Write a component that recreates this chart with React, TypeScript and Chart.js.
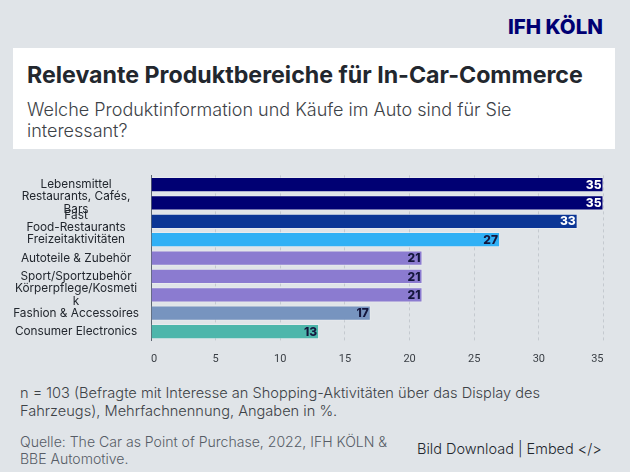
import { useEffect, useRef } from 'react';
import { Chart, registerables } from 'chart.js';

Chart.register(...registerables);

const categories = [
    'Lebensmittel',
    ['Restaurants, Cafés,', 'Bars'],
    ['Fast', 'Food-Restaurants'],
    'Freizeitaktivitäten',
    'Autoteile & Zubehör',
    'Sport/Sportzubehör',
    ['Körperpflege/Kosmeti', 'k'],
    'Fashion & Accessoires',
    'Consumer Electronics',
];
const values = [35, 35, 33, 27, 21, 21, 21, 17, 13];
const barColors = ['#000073', '#000073', '#0b3595', '#30b0f5', '#8b7bd0', '#8b7bd0', '#8b7bd0', '#7794bf', '#4db6ab'];
const labelColors = ['#ffffff', '#ffffff', '#ffffff', '#14163c', '#14163c', '#14163c', '#14163c', '#14163c', '#14163c'];
const xTicks = [0, 5, 10, 15, 20, 25, 30, 35];

const FONT = 'Inter, sans-serif';

const valueLabels = {
    id: 'valueLabels',
    afterDatasetsDraw(chart: Chart) {
        const { ctx } = chart;
        const meta = chart.getDatasetMeta(0);
        ctx.save();
        ctx.font = `800 12px ${FONT}`;
        ctx.textAlign = 'right';
        ctx.textBaseline = 'middle';
        meta.data.forEach((bar: any, i: number) => {
            ctx.fillStyle = labelColors[i];
            ctx.fillText(String(values[i]), bar.x - 2, bar.y + 0.5);
        });
        ctx.restore();
    },
};

const text = (extra: React.CSSProperties): React.CSSProperties => ({
    position: 'absolute',
    margin: 0,
    fontFamily: FONT,
    whiteSpace: 'nowrap',
    ...extra,
});

export default function App() {
    const canvasRef = useRef<HTMLCanvasElement>(null);

    useEffect(() => {
        const canvas = canvasRef.current;
        if (!canvas) return;
        const chart = new Chart(canvas, {
            type: 'bar',
            data: {
                labels: categories,
                datasets: [
                    {
                        data: values,
                        backgroundColor: barColors,
                        borderColor: 'rgba(255,255,255,0.25)',
                        borderWidth: 1,
                        barPercentage: 0.92,
                        categoryPercentage: 0.9,
                    },
                ],
            },
            plugins: [valueLabels],
            options: {
                indexAxis: 'y',
                responsive: false,
                animation: false,
                layout: { padding: { top: 0, right: 26.5, bottom: 0, left: 0 } },
                plugins: { legend: { display: false }, tooltip: { enabled: false } },
                scales: {
                    x: {
                        min: 0,
                        max: 35,
                        afterBuildTicks: (axis: any) => {
                            axis.ticks = xTicks.map((value) => ({ value }));
                        },
                        grid: {
                            color: '#c4c9cf',
                            tickLength: 0,
                            drawTicks: false,
                        },
                        border: { display: false, dash: [3, 3] },
                        ticks: {
                            align: 'inner',
                            maxRotation: 0,
                            padding: 12,
                            color: '#3a3f45',
                            font: { family: 'Roboto, sans-serif', size: 11 },
                        },
                    },
                    y: {
                        afterFit: (axis: any) => {
                            axis.width = 151;
                        },
                        grid: { display: false, drawTicks: false },
                        border: { display: true, color: '#5b6470', width: 1 },
                        ticks: {
                            crossAlign: 'center',
                            autoSkip: false,
                            padding: 12,
                            color: '#22272e',
                            font: { family: FONT, size: 11.8, lineHeight: 1.08 },
                        },
                    },
                },
            },
        });
        return () => chart.destroy();
    }, []);

    return (
        <div style={{ position: 'absolute', left: 0, top: 0, width: 630, height: 472, overflow: 'hidden', background: '#e0e4e8' }}>
            <div style={text({ right: 27, top: 15, fontSize: 20.5, lineHeight: '24px', fontWeight: 800, color: '#000073' })}>IFH KÖLN</div>
            <div style={{ position: 'absolute', left: 13, top: 48, width: 602, height: 101, background: '#ffffff' }} />
            <div style={text({ left: 27, top: 61, fontSize: 23.2, lineHeight: '28px', fontWeight: 700, color: '#22272e' })}>
                Relevante Produktbereiche für In-Car-Commerce
            </div>
            <div style={text({ left: 27, top: 98.5, fontSize: 18, lineHeight: '21.5px', fontWeight: 300, color: '#3d4247' })}>
                Welche Produktinformation und Käufe im Auto sind für Sie
                <br />
                interessant?
            </div>
            <canvas ref={canvasRef} width={630} height={221} style={{ position: 'absolute', left: 0, top: 157, display: 'block' }} />
            <div style={text({ left: 20, top: 385, fontSize: 14.6, lineHeight: '17.5px', fontWeight: 300, color: '#3d4247' })}>
                n = 103 (Befragte mit Interesse an Shopping-Aktivitäten über das Display des
                <br />
                Fahrzeugs), Mehrfachnennung, Angaben in %.
            </div>
            <div style={text({ left: 20, top: 432.5, fontSize: 14.05, lineHeight: '17px', fontWeight: 300, color: '#565c66' })}>
                Quelle: The Car as Point of Purchase, 2022, IFH KÖLN &amp;
                <br />
                BBE Automotive.
            </div>
            <div style={text({ left: 417, top: 439, fontSize: 14.5, lineHeight: '20px', fontWeight: 300, color: '#22272e' })}>Bild Download | Embed &lt;/&gt;</div>
        </div>
    );
}
